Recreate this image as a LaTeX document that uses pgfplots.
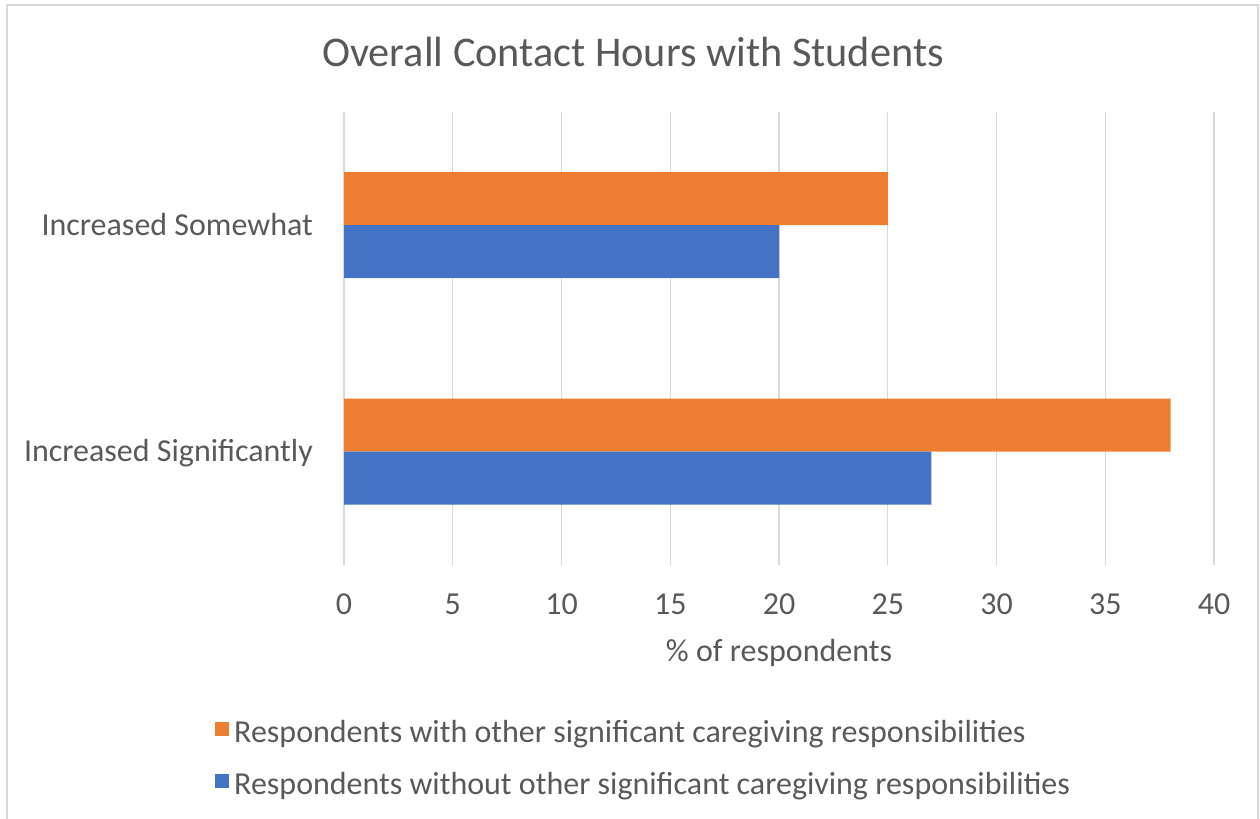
\documentclass[border=0pt]{standalone}
\usepackage{fontspec}
\setmainfont{Carlito}
\usepackage{pgfplots}
\pgfplotsset{compat=1.18}
\definecolor{txt}{HTML}{595959}
\definecolor{gridc}{HTML}{D9D9D9}
\definecolor{orng}{HTML}{ED7D31}
\definecolor{blu}{HTML}{4472C4}
\begin{document}
\begin{tikzpicture}[x=1bp,y=1bp]
\path[use as bounding box] (0,0) rectangle (1260,819);
\draw[gridc, line width=2bp] (7,0) -- (7,814) -- (1258,814) -- (1258,0);
\node[anchor=base, text=txt, inner sep=0, font=\fontsize{42.3bp}{50bp}\selectfont] at (633,752) {Overall Contact Hours with Students};
\begin{axis}[
  at={(344bp,254bp)}, anchor=south west,
  scale only axis, width=870bp, height=453bp,
  xmin=0, xmax=40, ymin=-0.5, ymax=1.5,
  xbar, bar width=0.234,
  ytick={0,1}, yticklabels={Increased Significantly, Increased Somewhat},
  xtick={0,5,...,40},
  axis line style={draw=none},
  major tick length=0,
  xmajorgrids, grid style={gridc, line width=1.3bp},
  /pgf/number format/assume math mode=true,
  tick label style={text=txt, font=\fontsize{32bp}{38bp}\selectfont, inner sep=0},
  yticklabel style={anchor=base east, xshift=-31bp, yshift=-10bp},
  xticklabel style={anchor=base, yshift=-50bp},
  xlabel={\% of respondents},
  xlabel style={at={(axis description cs:0.5,0)}, anchor=base, yshift=-97bp, text=txt, font=\fontsize{32bp}{38bp}\selectfont, inner sep=0},
  legend style={at={(axis description cs:-0.1483,-0.343)}, anchor=north west, draw=none, fill=none, inner sep=0pt,
    font=\fontsize{32bp}{38bp}\selectfont, text=txt, row sep=28bp,
    nodes={inner sep=0pt, anchor=west}},
  legend cell align=left,
  legend image code/.code={\fill[#1] (0bp,-4bp) rectangle (14bp,10bp); \path (19bp,0) ;},
]
\addplot[fill=orng, draw=none, bar shift=0.117] coordinates {(38,0) (25,1)};
\addplot[fill=blu, draw=none, bar shift=-0.117] coordinates {(27,0) (20,1)};
\legend{Respondents with other significant caregiving responsibilities, Respondents without other significant caregiving responsibilities}
\end{axis}
\end{tikzpicture}
\end{document}
